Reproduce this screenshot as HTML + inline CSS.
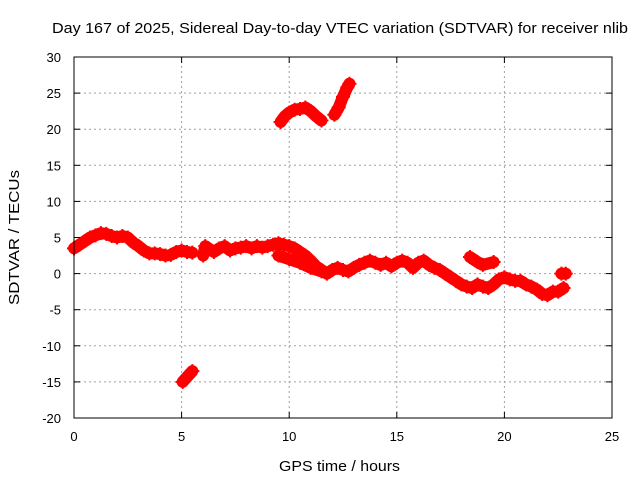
<!DOCTYPE html>
<html><head><meta charset="utf-8"><style>
body{margin:0;background:#fff}
svg text{font-family:"Liberation Sans",sans-serif;font-size:13px;fill:#000}
</style></head><body>
<svg id="chart" width="640" height="480" xmlns="http://www.w3.org/2000/svg">
<rect width="640" height="480" fill="#fff"/>
<g id="grid"></g>
<g id="marks"></g>
<rect x="74" y="57" width="538" height="361" fill="none" stroke="#000" stroke-width="1"/>
<g id="axes"></g>
<text x="52" y="33" textLength="576" lengthAdjust="spacingAndGlyphs" style="font-size:15px">Day 167 of 2025, Sidereal Day-to-day VTEC variation (SDTVAR) for receiver nlib</text>
<text x="279" y="471" textLength="121" lengthAdjust="spacingAndGlyphs" style="font-size:15px">GPS time / hours</text>
<text x="19" y="305" textLength="135" lengthAdjust="spacingAndGlyphs" transform="rotate(-90 19 305)" style="font-size:15px">SDTVAR / TECUs</text>
</svg>
<script>
const xTicks=[0,5,10,15,20,25];
const yTicks=[-20,-15,-10,-5,0,5,10,15,20,25,30];
const seg1T=[0,0.25,0.5,0.75,1,1.25,1.5,1.75,2,2.25,2.5,2.75,3,3.25,3.5,3.75,4,4.25,4.5,4.75,5,5.25,5.5];
const seg1V=[3.5,4,4.5,5,5.3,5.6,5.5,5.2,5,5.2,5,4.3,3.8,3.2,2.8,2.8,2.7,2.5,2.6,3,3.2,3,2.9];
const seg2T=[6,6.1,6.25,6.5,6.75,7,7.25,7.5,7.75,8,8.25,8.5,8.75,9,9.25,9.5,9.75,10,10.25,10.5,10.75,11,11.25,11.5,11.75,12,12.25,12.5,12.75,13,13.25,13.5,13.75,14,14.25,14.5,14.75,15,15.25,15.5,15.75,16,16.25,16.5,16.75,17,17.25,17.5,17.75,18,18.25,18.5,18.75,19,19.25,19.5,19.75,20,20.25,20.5,20.75,21,21.25,21.5,21.75,22,22.25,22.5,22.75];
const seg2V=[2.5,3.8,3.5,3,3.5,3.8,3.2,3.5,3.6,3.8,3.5,3.8,3.6,3.8,4,4.2,4,3.8,3.5,3,2.5,1.8,1,0.5,0,0.5,0.8,0.5,0.3,0.8,1.2,1.5,1.8,1.5,1.2,1.5,1,1.5,1.8,1.5,0.8,1.5,1.8,1.2,0.8,0.5,0,-0.5,-1,-1.5,-1.8,-2,-1.5,-1.8,-2,-1.5,-0.8,-0.5,-0.8,-1,-1,-1.5,-1.8,-2.2,-2.8,-3,-2.5,-2.5,-2];
const seg3T=[9.5,10,10.5,11,11.5];
const seg3V=[2.5,2,1.5,0.8,0.3];
const seg4T=[18.4,18.75,19,19.5];
const seg4V=[2.3,1.6,1.2,1.6];
const seg5T=[22.65,22.85];
const seg5V=[0,0];
const seg6T=[9.6,9.8,10,10.25,10.5,10.75,11,11.25,11.5];
const seg6V=[21,21.8,22.3,22.7,22.8,23,22.5,21.8,21.2];
const seg7T=[12.1,12.3,12.5,12.7,12.8];
const seg7V=[22,23,24.5,25.8,26.3];
const seg8T=[5.05,5.2,5.35,5.5];
const seg8V=[-15,-14.5,-14,-13.5];
const X0=74,X1=612,Y0=418,Y1=57;
const sx=t=>X0+(t-0)/(25-0)*(X1-X0);
const sy=v=>Y0-(v+20)/50*(Y0-Y1);
const NS="http://www.w3.org/2000/svg";
const grid=document.getElementById('grid'),axes=document.getElementById('axes'),marks=document.getElementById('marks');
function mk(tag,attrs,parent){const e=document.createElementNS(NS,tag);for(const k in attrs)e.setAttribute(k,attrs[k]);parent.appendChild(e);return e;}
xTicks.forEach(t=>{const x=sx(t);
 if(t>0&&t<25){const g=mk('line',{x1:x,x2:x,y1:Y0,y2:Y1,stroke:'#a0a0a0','stroke-dasharray':'2,3'},grid);}
 mk('line',{x1:x,x2:x,y1:Y0,y2:Y0-6,stroke:'#000'},axes);mk('line',{x1:x,x2:x,y1:Y1,y2:Y1+6,stroke:'#000'},axes);
 const tx=mk('text',{x:x,y:Y0+23,'text-anchor':'middle'},axes);tx.textContent=t;
 });
yTicks.forEach(v=>{const y=sy(v);
 if(v>-20&&v<30){const g=mk('line',{x1:X0,x2:X1,y1:y,y2:y,stroke:'#a0a0a0','stroke-dasharray':'2,3'},grid);}
 mk('line',{x1:X0,x2:X0+6,y1:y,y2:y,stroke:'#000'},axes);mk('line',{x1:X1,x2:X1-6,y1:y,y2:y,stroke:'#000'},axes);
 const tx=mk('text',{x:X0-13,y:y+5,'text-anchor':'end'},axes);tx.textContent=v;
 });
const segs=[[seg1T,seg1V],[seg2T,seg2V],[seg3T,seg3V],[seg4T,seg4V],[seg5T,seg5V],[seg6T,seg6V],[seg7T,seg7V],[seg8T,seg8V]];
segs.forEach(([T,V])=>{
 const pts=T.map((t,i)=>sx(t)+','+sy(V[i])).join(' ');
 const pl=mk('polyline',{points:pts,fill:'none',stroke:'#f00','stroke-width':12,'stroke-linejoin':'round','stroke-linecap':'round'},marks);
 
 
 T.forEach((t,i)=>{const x=sx(t),y=sy(V[i]);
  const p=mk('path',{d:`M${x-7},${y}H${x+7}M${x},${y-7}V${y+7}`,stroke:'#f00','stroke-width':2},marks);
  
  });
});
</script>
</body></html>
